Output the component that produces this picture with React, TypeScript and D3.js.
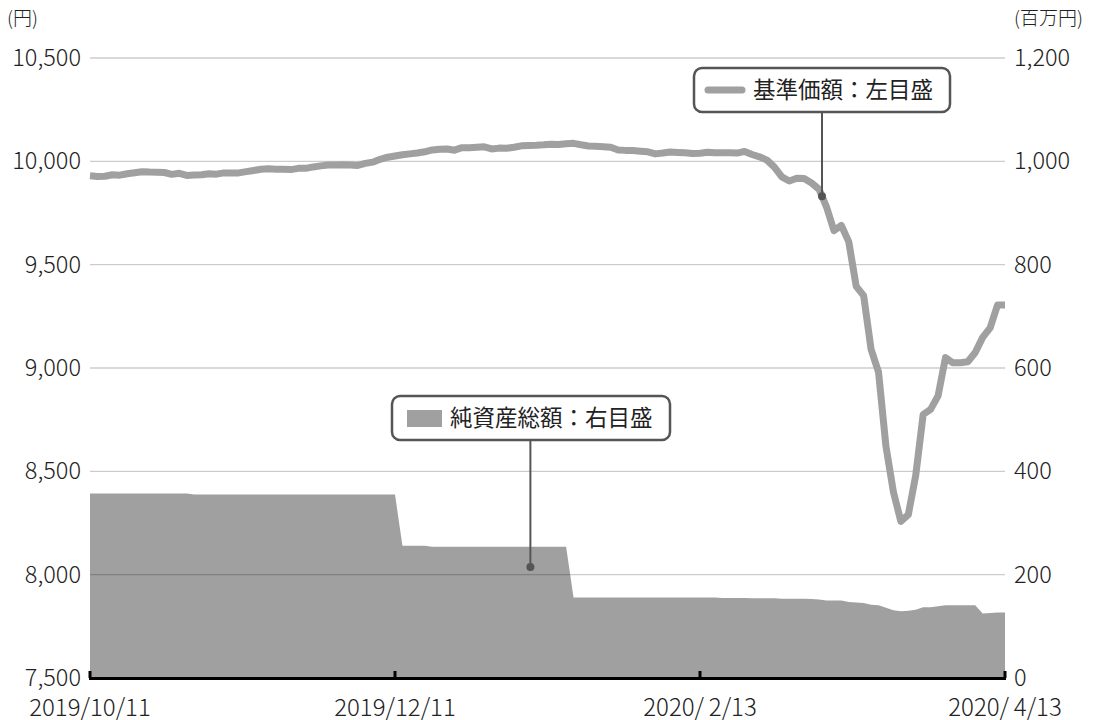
import * as d3 from 'd3'
import React from 'react'

// 基準価額 (円, left axis) – one value per business day
const navValues = [
  9930, 9927, 9928, 9935, 9933, 9940, 9945, 9950, 9948, 9947,
  9946, 9937, 9942, 9932, 9934, 9935, 9940, 9938, 9944, 9944,
  9944, 9950, 9956, 9962, 9964, 9962, 9962, 9960, 9966, 9966,
  9973, 9978, 9982, 9982, 9983, 9982, 9980, 9990, 9996, 10010,
  10020, 10026, 10032, 10036, 10040, 10046, 10055, 10058, 10060, 10054,
  10066, 10066, 10068, 10070, 10060, 10064, 10063, 10068, 10075, 10077,
  10078, 10080, 10083, 10081, 10085, 10087, 10080, 10074, 10073, 10071,
  10068, 10055, 10053, 10052, 10049, 10046, 10036, 10040, 10045, 10043,
  10041, 10038, 10039, 10044, 10042, 10042, 10041, 10040, 10048, 10033,
  10022, 10006, 9972, 9925, 9905, 9918, 9917, 9895, 9865, 9780,
  9665, 9690, 9610, 9395, 9350, 9090, 8980, 8620, 8400, 8258,
  8290, 8480, 8775, 8800, 8865, 9050, 9025, 9025, 9030, 9075,
  9148, 9194, 9305, 9305,
]

// 純資産総額 (百万円, right axis)
const netAssets = [
  357, 357, 357, 357, 357, 357, 357, 357, 357, 357,
  357, 357, 357, 357, 355, 355, 355, 355, 355, 355,
  355, 355, 355, 355, 355, 355, 355, 355, 355, 355,
  355, 355, 355, 355, 355, 355, 355, 355, 355, 355,
  355, 355, 256, 256, 256, 256, 254, 254, 254, 254,
  254, 254, 254, 254, 254, 254, 254, 254, 254, 254,
  254, 254, 254, 254, 254, 156, 156, 156, 156, 156,
  156, 156, 156, 156, 156, 156, 156, 156, 156, 156,
  156, 156, 156, 156, 156, 155, 155, 155, 155, 154.5,
  154.5, 154.5, 154.5, 153.5, 153.5, 153.5, 153.5, 153, 152, 150,
  150, 150, 147, 146, 145, 142, 141, 136, 131, 129,
  130, 132, 137, 137, 139, 141, 141, 141, 141, 141,
  125, 126, 127, 127,
]

const leftTicks = [7500, 8000, 8500, 9000, 9500, 10000, 10500]
const rightTicks = [0, 200, 400, 600, 800, 1000, 1200]
const xTickIndex = [0, 41, 82, 123]
const xTickLabels = ['2019/10/11', '2019/12/11', '2020/\u20092/13', '2020/\u20094/13']

const W = 1093
const H = 720
const FONT = '"Noto Sans CJK JP", "Noto Sans", sans-serif'
const GRAY = '#a0a0a0'
const INK = '#222'

export default function App() {
  const
    x = d3.scaleLinear().domain([0, navValues.length - 1]).range([90, 1005]),
    yL = d3.scaleLinear().domain([7500, 10500]).range([678, 58]),
    yR = d3.scaleLinear().domain([0, 1200]).range([678, 58]),
    line = d3.line<number>().x((_, i) => x(i)).y(d => yL(d)),
    area = d3.area<number>().x((_, i) => x(i)).y0(yR(0)).y1(d => yR(d))

  // leader dots
  const navAt = 98.4
  const navDot = { x: x(navAt), y: yL(d3.interpolateNumber(navValues[98], navValues[99])(navAt - 98)) }
  const assetDot = { x: x(59.2), y: yR(215) }

  return (
    <svg width={W} height={H} style={{ position: 'absolute', left: 0, top: 0, display: 'block' }} fontFamily={FONT} fontWeight={300}>
      <rect width={W} height={H} fill='#fff' />
      <path d={area(netAssets) as string} fill={GRAY} />
      {leftTicks.slice(1).map(t => (
        <line key={t} x1={90} x2={1005} y1={yL(t)} y2={yL(t)} stroke='#000' strokeOpacity={0.2} strokeWidth={1.3} />
      ))}
      <path d={line(navValues) as string} fill='none' stroke={GRAY} strokeWidth={7} strokeLinejoin='round' />

      {/* bottom axis */}
      <line x1={89} x2={1006} y1={678.5} y2={678.5} stroke='#000' strokeWidth={3} />
      {xTickIndex.map((i, k) => (
        <g key={i}>
          <line x1={x(i)} x2={x(i)} y1={671} y2={678} stroke='#000' strokeWidth={3} />
          <text x={x(i)} y={716} textAnchor='middle' fontSize={24} fill={INK}>{xTickLabels[k]}</text>
        </g>
      ))}

      {leftTicks.map(t => (
        <text key={t} x={81} y={yL(t)} dy='0.34em' textAnchor='end' fontSize={23.5} fill={INK}>{d3.format(',')(t)}</text>
      ))}
      {rightTicks.map(t => (
        <text key={t} x={1014} y={yR(t)} dy='0.34em' textAnchor='start' fontSize={23.5} fill={INK}>{d3.format(',')(t)}</text>
      ))}
      <text x={7} y={25} fontSize={19} fill={INK}>(円)</text>
      <text x={1014} y={25} fontSize={19} fill={INK}>(百万円)</text>

      {/* 基準価額 label */}
      <line x1={navDot.x} x2={navDot.x} y1={112} y2={navDot.y} stroke='#555' strokeWidth={2} />
      <circle cx={navDot.x} cy={navDot.y} r={4} fill='#555' />
      <rect x={694} y={68} width={256} height={44} rx={8} fill='#fff' stroke='#555' strokeWidth={2.5} />
      <line x1={708} x2={742} y1={90} y2={90} stroke={GRAY} strokeWidth={7} strokeLinecap='round' />
      <text x={753} y={90} dy='0.36em' fontSize={22.5} fontWeight={400} fill={INK}>基準価額：左目盛</text>

      {/* 純資産総額 label */}
      <line x1={assetDot.x} x2={assetDot.x} y1={440} y2={assetDot.y} stroke='#555' strokeWidth={2} />
      <circle cx={assetDot.x} cy={assetDot.y} r={4} fill='#555' />
      <rect x={392} y={396} width={278} height={44} rx={8} fill='#fff' stroke='#555' strokeWidth={2.5} />
      <rect x={407} y={410} width={35} height={17} fill={GRAY} />
      <text x={450} y={418} dy='0.36em' fontSize={22.5} fontWeight={400} fill={INK}>純資産総額：右目盛</text>
    </svg>
  )
}
